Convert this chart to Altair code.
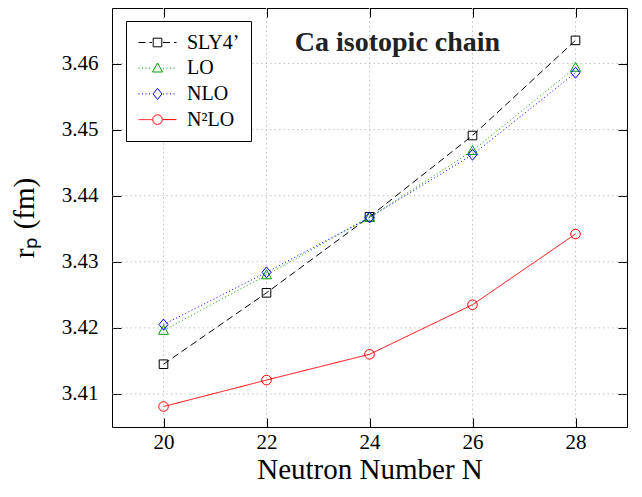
import altair as alt
import pandas as pd

FONT = "Liberation Serif"

# ---- data ----
neutrons = [20, 22, 24, 26, 28]
series_names = ["SLY4\u2019", "LO", "NLO", "N\u00b2LO"]
sly4 = [3.4145, 3.4253, 3.4368, 3.4491, 3.4635]
lo = [3.4196, 3.4280, 3.4367, 3.4468, 3.4594]
nlo = [3.4205, 3.4284, 3.4367, 3.4462, 3.4586]
n2lo = [3.4081, 3.4121, 3.4160, 3.4235, 3.4342]

x_ticks = [20, 22, 24, 26, 28]
y_ticks = [3.41, 3.42, 3.43, 3.44, 3.45, 3.46]

colors = ["#000000", "#00a000", "#0000ff", "#ff0000"]
dashes = [[7, 4], [1, 2.5], [1, 2.5], [1, 0]]

# symbol paths (scaled by sqrt(size)/2 = 10 px per unit); BOUND keeps legend bounds equal
BOUND = "M-1.9,0M1.9,0"
shape_paths = [
    BOUND + "M-0.43,-0.43H0.43V0.43H-0.43Z",
    BOUND + "M0,-0.52L0.5,0.38H-0.5Z",
    BOUND + "M0,-0.55L0.45,0L0,0.55L-0.45,0Z",
    BOUND + "M0.48,0A0.48,0.48 0 1,1 -0.48,0A0.48,0.48 0 1,1 0.48,0Z",
]
LINE_PATH = "M-1.9,0L-0.55,0M0.55,0L1.9,0"
SYM = 400

rows = []
for name, vals in zip(series_names, [sly4, lo, nlo, n2lo]):
    for n, v in zip(neutrons, vals):
        rows.append({"series": name, "N": n, "r": v})
df = pd.DataFrame(rows)

x_scale = alt.Scale(domain=[19, 29], nice=False, zero=False)
y_scale = alt.Scale(domain=[3.405, 3.4684], nice=False, zero=False)

tick_common = dict(offset=-9, tickSize=9, domain=False, grid=False,
                   tickColor="black", tickWidth=1)

bottom_axis = alt.Axis(orient="bottom", values=x_ticks, format="d",
                       labelFont=FONT, labelFontSize=21, labelColor="black",
                       labelPadding=4, title="Neutron Number N",
                       titleFont=FONT, titleFontSize=29, titleFontWeight="normal",
                       titleColor="black", titlePadding=3, **tick_common)
left_axis = alt.Axis(orient="left", values=y_ticks, format=".2f",
                     labelFont=FONT, labelFontSize=21, labelColor="black",
                     labelPadding=14, title="r\u209a (fm)",
                     titleFont=FONT, titleFontSize=29, titleFontWeight="normal",
                     titleColor="black", titlePadding=22, **tick_common)
top_axis = alt.Axis(orient="top", values=x_ticks, labels=False, title=None,
                    **tick_common)
right_axis = alt.Axis(orient="right", values=y_ticks, labels=False, title=None,
                      **tick_common)

legend_common = dict(title=None, orient="none", legendX=14, legendY=13,
                     symbolSize=SYM, symbolStrokeWidth=1, symbolOffset=10,
                     labelFont=FONT, labelFontSize=20, labelColor="black",
                     labelOffset=19, padding=11, rowPadding=4.7)
line_legend = alt.Legend(symbolType=LINE_PATH, strokeColor="black",
                         fillColor="white", symbolFillColor="transparent",
                         **legend_common)
marker_legend = alt.Legend(labelOpacity=0, **legend_common)

grid_style = dict(color="#c4c4c4", strokeDash=[1.5, 3], strokeWidth=1)

grid_x = alt.Chart(pd.DataFrame({"N": x_ticks})).mark_rule(**grid_style).encode(
    x=alt.X("N:Q", scale=x_scale, axis=bottom_axis)
)
grid_y = alt.Chart(pd.DataFrame({"r": y_ticks})).mark_rule(**grid_style).encode(
    y=alt.Y("r:Q", scale=y_scale, axis=left_axis)
)

lines = alt.Chart(df).mark_line(strokeWidth=1).encode(
    x=alt.X("N:Q", scale=x_scale, axis=top_axis),
    y=alt.Y("r:Q", scale=y_scale, axis=right_axis),
    color=alt.Color("series:N", scale=alt.Scale(domain=series_names, range=colors),
                    legend=line_legend),
    strokeDash=alt.StrokeDash("series:N",
                              scale=alt.Scale(domain=series_names, range=dashes),
                              legend=line_legend),
)

points = alt.Chart(df).mark_point(filled=False, size=SYM, strokeWidth=1, opacity=1).encode(
    x=alt.X("N:Q", scale=x_scale, axis=None),
    y=alt.Y("r:Q", scale=y_scale, axis=None),
    color=alt.Color("series:N", scale=alt.Scale(domain=series_names, range=colors),
                    legend=marker_legend),
    shape=alt.Shape("series:N", scale=alt.Scale(domain=series_names, range=shape_paths),
                    legend=marker_legend),
)

chart = alt.layer(grid_x, grid_y, lines, points).resolve_scale(
    color="independent", strokeDash="independent", shape="independent"
).resolve_axis(
    x="independent", y="independent"
).properties(
    width=515,
    height=419,
    title=alt.Title("Ca isotopic chain", font=FONT, fontSize=28, fontWeight="bold",
                    color="#222222", anchor="middle", dx=28, dy=71, offset=0,
                    baseline="alphabetic"),
    autosize=alt.AutoSizeParams(type="none"),
    padding={"left": 104, "top": 0, "right": 7, "bottom": 62},
).configure_view(stroke="black", strokeWidth=1)

chart.save("out.html", embed_options={"renderer": "svg", "actions": False})
